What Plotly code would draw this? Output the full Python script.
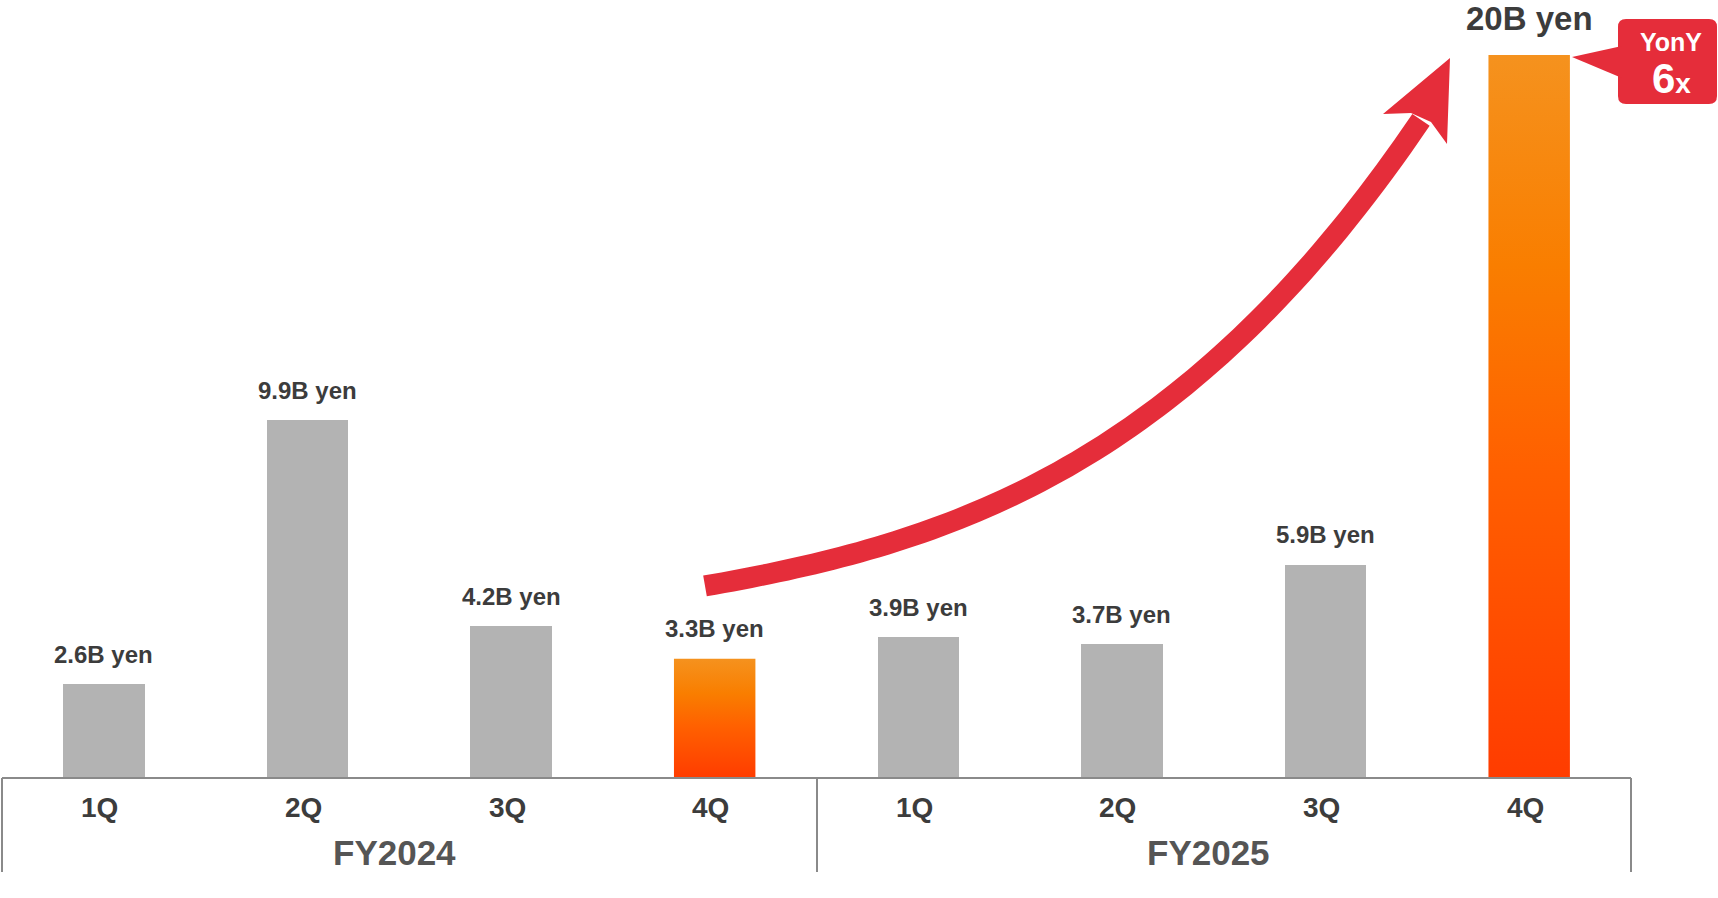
import numpy as np
import plotly.graph_objects as go

# ---------------- data ----------------
quarters = ["1Q", "2Q", "3Q", "4Q", "1Q", "2Q", "3Q", "4Q"]
fiscal_years = ["FY2024", "FY2025"]
revenue = [2.6, 9.9, 4.2, 3.3, 3.9, 3.7, 5.9, 20]
value_labels = ["2.6B yen", "9.9B yen", "4.2B yen", "3.3B yen",
                "3.9B yen", "3.7B yen", "5.9B yen", "20B yen"]
highlight = [False, False, False, True, False, False, False, True]
callout_top = "YonY"
callout_value = "6"
callout_unit = "x"

# ---------------- geometry ----------------
W_FIG, H_FIG = 1718, 898
ML, MR, MT, MB = 2, 87, 0, 120
PW = W_FIG - ML - MR
PH = H_FIG - MT - MB
YMAX = PH / 36.15

def px(x):
    return (x - ML) / PW

def py(y):
    return (MT + PH - y) / PH

GRAY = "#B3B3B3"
TEXT = "#3C3C3C"
AXIS = "#8A8A8A"
RED = "#E52D3A"
FONT = "Liberation Sans"
BAR_W = 0.4
grad = [[0, "#FF3C00"], [0.43, "#FF6000"], [0.71, "#F97E00"], [1, "#F5921E"]]

fig = go.Figure()

xs = list(range(len(revenue)))
gx = [i for i in xs if not highlight[i]]
fig.add_trace(go.Bar(
    x=gx, y=[revenue[i] for i in gx], width=BAR_W,
    marker=dict(color=GRAY, line=dict(width=0)),
    hoverinfo="skip", showlegend=False,
))
for i in xs:
    if highlight[i]:
        fig.add_trace(go.Scatter(
            x=[i - BAR_W / 2, i + BAR_W / 2, i + BAR_W / 2, i - BAR_W / 2, i - BAR_W / 2],
            y=[0, 0, revenue[i], revenue[i], 0],
            mode="lines", fill="toself", line=dict(width=0, color="rgba(0,0,0,0)"),
            fillgradient=dict(type="vertical", colorscale=grad),
            hoverinfo="skip", showlegend=False,
        ))

annotations = []
for i in xs:
    big = i == len(revenue) - 1
    annotations.append(dict(
        x=i, y=revenue[i], xref="x", yref="y", text=value_labels[i],
        showarrow=False, yanchor="middle", yshift=37 if big else 30,
        font=dict(family=FONT, size=33 if big else 24, color=TEXT, weight="bold"),
    ))
    annotations.append(dict(
        x=i, y=py(807), xref="x", yref="paper", text=quarters[i],
        showarrow=False, yanchor="middle", xshift=-4,
        font=dict(family=FONT, size=28, color=TEXT, weight="bold"),
    ))
for k, fy in enumerate(fiscal_years):
    annotations.append(dict(
        x=1.5 + 4 * k, y=py(852), xref="x", yref="paper", text=fy,
        showarrow=False, yanchor="middle", xshift=-15,
        font=dict(family=FONT, size=35, color="#555555", weight="bold"),
    ))

# callout text
annotations.append(dict(
    x=px(1671), y=py(42), xref="paper", yref="paper", text=callout_top,
    showarrow=False, yanchor="middle", xanchor="center",
    font=dict(family=FONT, size=25, color="white", weight="bold"),
))
annotations.append(dict(
    x=px(1671), y=py(79), xref="paper", yref="paper",
    text=f"<span style='font-size:42px'>{callout_value}</span><span style='font-size:28px'>{callout_unit}</span>",
    showarrow=False, yanchor="middle", xanchor="center",
    font=dict(family=FONT, size=42, color="white", weight="bold"),
))

shapes = []
# axis lines
shapes.append(dict(type="line", xref="paper", yref="paper", x0=px(2), x1=px(1631),
                   y0=py(778), y1=py(778), line=dict(color=AXIS, width=2)))
for xv in (2, 817, 1631):
    shapes.append(dict(type="line", xref="paper", yref="paper", x0=px(xv), x1=px(xv),
                       y0=py(778), y1=py(872), line=dict(color=AXIS, width=2)))

# growth arrow: smooth curve through guide points (pixel space)
guide_x = [705, 877, 1000, 1096, 1200, 1315, 1421]
guide_y = [585, 550, 503, 442, 376, 262, 118]
coef = np.polyfit(guide_x, guide_y, 3)
cx = np.linspace(guide_x[0], guide_x[-1], 80)
cy = np.polyval(coef, cx)
d = "M " + " L ".join(f"{px(a):.5f},{py(b):.5f}" for a, b in zip(cx, cy))
shapes.append(dict(type="path", xref="paper", yref="paper", path=d,
                   line=dict(color=RED, width=21)))
head = [(1450, 58), (1447, 144), (1431, 122), (1411, 113), (1383, 114)]
hp = "M " + " L ".join(f"{px(a)},{py(b)}" for a, b in head) + " Z"
shapes.append(dict(type="path", xref="paper", yref="paper", path=hp,
                   fillcolor=RED, line=dict(width=0)))

# callout box with pointer
x0, x1, y0, y1, r = 1618, 1717, 19, 104, 8
box = (f"M {px(x0 + r)},{py(y0)} L {px(x1 - r)},{py(y0)} "
       f"Q {px(x1)},{py(y0)} {px(x1)},{py(y0 + r)} L {px(x1)},{py(y1 - r)} "
       f"Q {px(x1)},{py(y1)} {px(x1 - r)},{py(y1)} L {px(x0 + r)},{py(y1)} "
       f"Q {px(x0)},{py(y1)} {px(x0)},{py(y1 - r)} L {px(x0)},{py(y0 + r)} "
       f"Q {px(x0)},{py(y0)} {px(x0 + r)},{py(y0)} Z")
shapes.append(dict(type="path", xref="paper", yref="paper", path=box,
                   fillcolor=RED, line=dict(width=0)))
ptr = f"M {px(1572)},{py(57)} L {px(1622)},{py(46)} L {px(1622)},{py(78)} Z"
shapes.append(dict(type="path", xref="paper", yref="paper", path=ptr,
                   fillcolor=RED, line=dict(width=0)))

fig.update_layout(
    width=W_FIG, height=H_FIG,
    margin=dict(l=ML, r=MR, t=MT, b=MB, pad=0, autoexpand=False),
    paper_bgcolor="white", plot_bgcolor="white",
    xaxis=dict(range=[-0.5, len(revenue) - 0.5], visible=False, fixedrange=True),
    yaxis=dict(range=[0, YMAX], visible=False, fixedrange=True),
    annotations=annotations, shapes=shapes, showlegend=False,
    bargap=0,
)

fig.write_html(
    "out.html",
    config={"displayModeBar": False},
    post_script="document.body.style.margin='0';document.body.style.overflow='hidden';",
)
